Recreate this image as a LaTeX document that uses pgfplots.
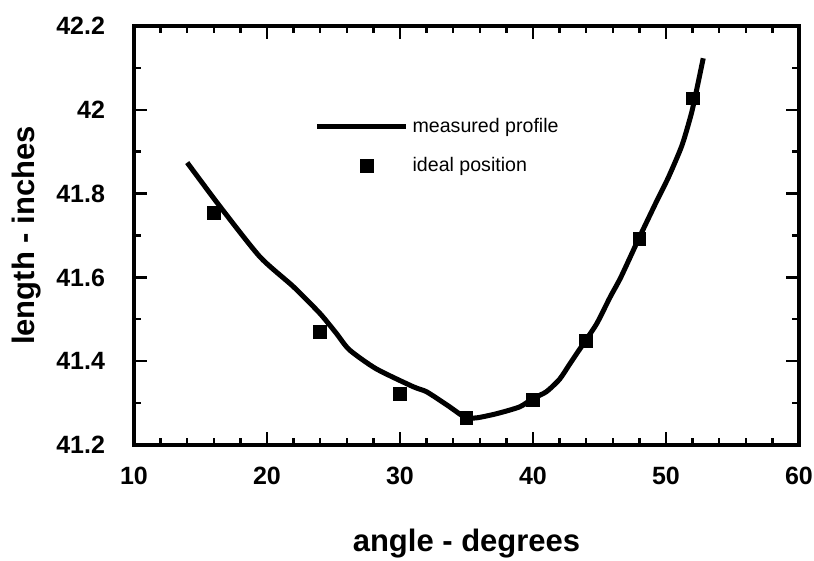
\documentclass[border=0pt]{standalone}
\usepackage{fontspec}
\setmainfont{Liberation Sans}
\usepackage{pgfplots}
\pgfplotsset{compat=1.18}
\pgfplotsset{
  linelegend/.style={legend image code/.code={\draw[##1, line width=2.5pt] (0pt,0pt) -- (44.5pt,0pt);}},
  marklegend/.style={legend image code/.code={\draw[##1, mark repeat=2, mark phase=2] plot coordinates {(0pt,0pt) (25pt,0pt) (50pt,0pt)};}},
}
\begin{document}
\begin{tikzpicture}
\useasboundingbox (-67pt,-58pt) rectangle (340pt,222.5pt);
\begin{axis}[
  at={(0pt,0pt)}, anchor=south west,
  width=332.5pt, height=209.5pt, scale only axis,
  xmin=10, xmax=60, ymin=41.2, ymax=42.2,
  xtick={10,20,...,60}, ytick={41.2,41.4,...,42.2},
  minor x tick num=4, minor y tick num=1,
  tick align=inside, tick pos=both,
  major tick length=6.5pt, minor tick length=3.5pt,
  every tick/.style={line width=1.2pt, black},
  axis line style={line width=2pt},
  /pgf/number format/assume math mode=true,
  ticklabel style={font=\bfseries\fontsize{12.5}{14}\selectfont},
  yticklabel style={/pgf/number format/fixed, /pgf/number format/precision=1},
  xticklabel style={yshift=-7.5pt},
  yticklabel style={xshift=-11pt},
  xlabel={angle - degrees}, ylabel={length - inches},
  label style={font=\bfseries\fontsize{15.5}{18}\selectfont},
  xlabel style={at={(axis description cs:0.5,-0.253)}, anchor=base},
  ylabel style={at={(axis description cs:-0.161,0.5)}, anchor=center},
  legend style={at={(0.262,0.80)}, anchor=north west, draw=none, fill=none,
    font=\fontsize{9.8}{11}\selectfont, row sep=7pt},
  legend cell align=left,
]
\addplot[black, line width=2.5pt, smooth, tension=0.4, line join=round, linelegend]
coordinates {
(14.0,41.874) (16.47,41.769) (19.47,41.649) (21.98,41.578) (23.98,41.514)
(25.2,41.467) (26.2,41.427) (28.2,41.382) (31.0,41.339) (32.0,41.327)
(33.6,41.294) (34.9,41.266) (35.8,41.265) (37.3,41.275) (39.0,41.291)
(40.0,41.311) (41.0,41.327) (42.0,41.357) (42.8,41.395) (43.9,41.447)
(44.8,41.49) (45.8,41.553) (46.6,41.60) (47.9,41.689) (49.3,41.782)
(50.2,41.840) (51.2,41.915) (51.9,41.99) (52.3,42.047) (52.8,42.123)
};
\addlegendentry{measured profile}
\addplot[only marks, mark=square*, mark size=3.2pt, black, marklegend]
coordinates {
(16,41.753) (24,41.469) (30,41.321) (35,41.264) (40,41.308) (44,41.449) (48,41.691) (52,42.027)
};
\addlegendentry{ideal position}
\end{axis}
\end{tikzpicture}
\end{document}
